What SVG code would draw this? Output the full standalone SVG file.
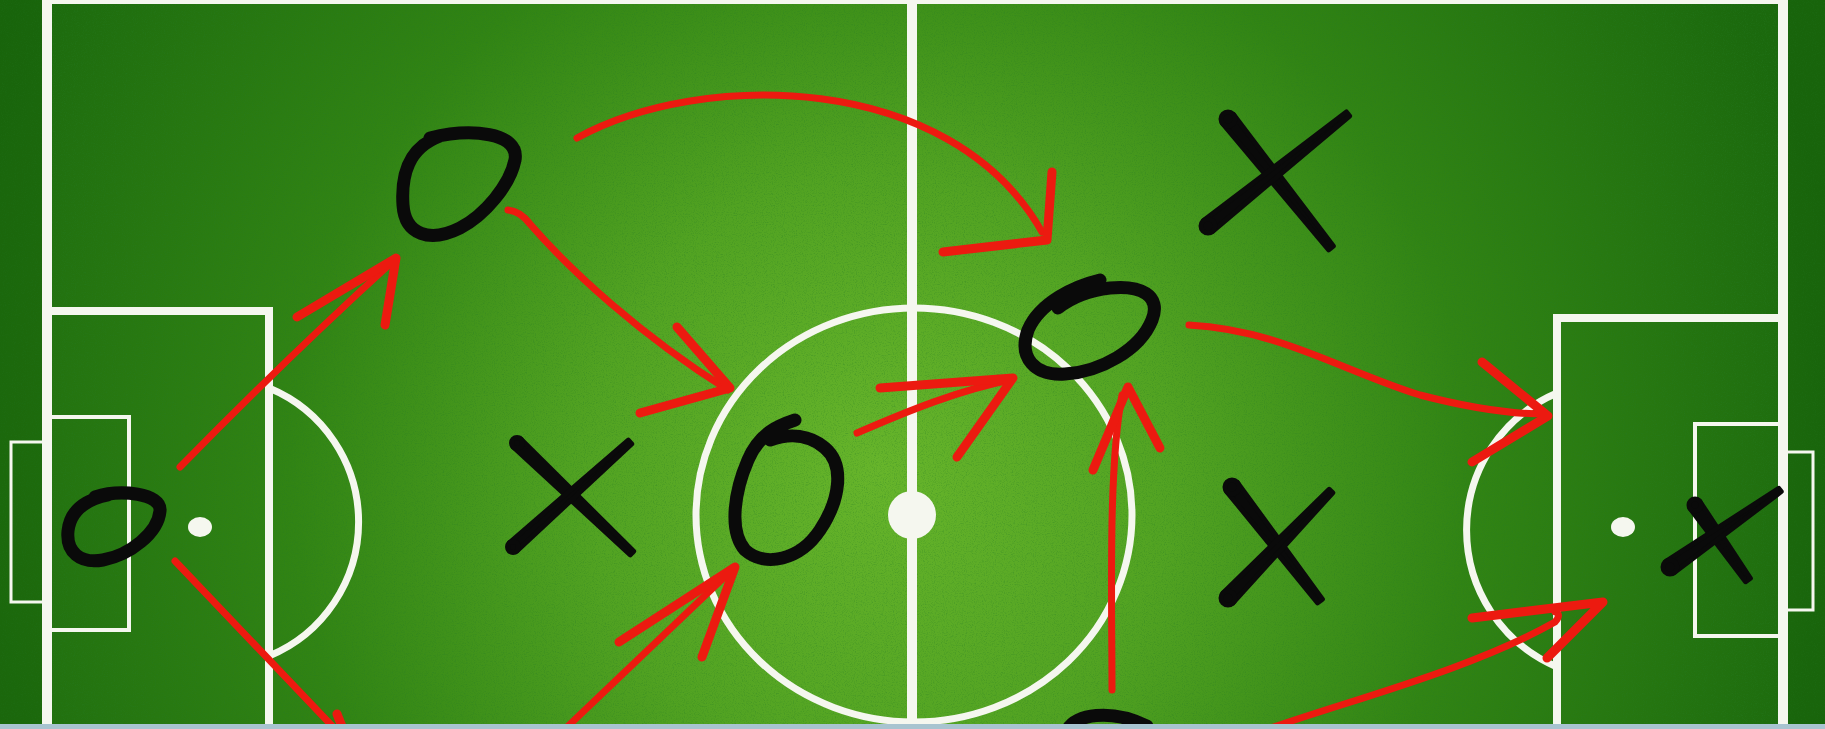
<svg xmlns="http://www.w3.org/2000/svg" width="1825" height="729" viewBox="0 0 1825 729">
<style>
.ln{fill:none;stroke:#f5f7ef;stroke-linecap:butt}
.thick{stroke-width:10}
.mid{stroke-width:8}
.thin{stroke-width:4}
.hair{stroke-width:3}
.spot{fill:#f5f7ef}
.o{fill:none;stroke:#0a0a0a;stroke-width:13;stroke-linecap:round;stroke-linejoin:round}
.x{fill:#0a0a0a;stroke:#0a0a0a;stroke-width:5;stroke-linejoin:round}
.r{fill:none;stroke:#ec1a10;stroke-width:7;stroke-linecap:round;stroke-linejoin:round}
.rh{fill:none;stroke:#ec1a10;stroke-width:9;stroke-linecap:round;stroke-linejoin:round}
</style>
<defs>
<radialGradient id="grass" cx="880" cy="470" r="980" gradientUnits="userSpaceOnUse">
<stop offset="0" stop-color="#67b52b"/>
<stop offset="0.3" stop-color="#52a322"/>
<stop offset="0.6" stop-color="#318414"/>
<stop offset="1" stop-color="#1b690d"/>
</radialGradient>
<filter id="grain" x="0" y="0" width="100%" height="100%">
<feTurbulence type="fractalNoise" baseFrequency="0.9" numOctaves="2" seed="4"/>
<feColorMatrix type="matrix" values="0 0 0 0 0.02 0 0 0 0 0.2 0 0 0 0 0.02 3 0 0 0 -1.45"/>
</filter>
</defs>
<g id="background">
<rect x="0" y="0" width="1825" height="729" fill="url(#grass)"/>
<rect x="0" y="0" width="1825" height="729" filter="url(#grain)" opacity="0.3"/>
<rect x="0" y="0" width="42" height="729" fill="#145d0a" opacity="0.35"/>
<rect x="1788" y="0" width="37" height="729" fill="#145d0a" opacity="0.35"/>
</g>
<g id="pitch">
<rect x="42" y="0" width="1746" height="4" class="spot"/>
<line class="ln thick" x1="47" y1="0" x2="47" y2="729"/>
<line class="ln thick" x1="1783" y1="0" x2="1783" y2="729"/>
<line class="ln thick" x1="912" y1="0" x2="912" y2="729"/>
<ellipse class="ln" stroke-width="7" cx="914" cy="515" rx="218" ry="207"/>
<circle class="spot" cx="912" cy="515" r="24"/>
<path class="ln mid" d="M47,311 H273 M269,307 V729"/>
<path class="ln thin" d="M47,417 H129 V630 H47"/>
<path class="ln hair" d="M47,442 H11 V602 H47"/>
<ellipse class="spot" cx="200" cy="527" rx="12" ry="10"/>
<path class="ln" stroke-width="7" d="M269,388 A145,145 0 0 1 269,656"/>
<path class="ln mid" d="M1783,318 H1553 M1557,314 V729"/>
<path class="ln thin" d="M1783,424 H1695 V636 H1783"/>
<path class="ln hair" d="M1783,452 H1813 V610 H1783"/>
<ellipse class="spot" cx="1623" cy="527" rx="12" ry="10"/>
<path class="ln" stroke-width="7" d="M1557,393 A149,149 0 0 0 1557,667"/>
</g>
<g id="connectors">
<path class="r" d="M180,467 Q290,355 390,264"/>
<path class="rh" d="M297,317 L396,258 L385,325"/>
<path class="r" d="M175,561 L335,729"/>
<path class="rh" d="M337,714 L343,729"/>
<path class="r" d="M508,210 Q520,211 530,224 C570,270 640,335 728,390"/>
<path class="rh" d="M677,327 L730,388 L640,413"/>
<path class="r" d="M857,433 C910,410 960,390 1010,380"/>
<path class="rh" d="M880,388 L1013,378 L957,457"/>
<path class="r" stroke-width="6" d="M577,138 C700,70 950,70 1042,232"/>
<path class="rh" d="M1052,172 L1047,240 L943,252"/>
<path class="r" stroke-width="6" d="M1189,325 C1280,330 1340,370 1420,395 C1470,408 1510,414 1545,414"/>
<path class="rh" d="M1482,362 L1548,416 L1472,462"/>
<path class="r" d="M1268,729 C1350,700 1470,670 1555,622 Q1562,614 1555,612"/>
<path class="rh" d="M1472,618 L1603,602 L1547,658"/>
<path class="r" d="M1112,690 C1112,600 1108,470 1122,395"/>
<path class="rh" d="M1093,470 L1128,387 L1160,448"/>
<path class="r" d="M565,729 L735,567"/>
<path class="rh" d="M619,642 L735,567 L702,657"/>
</g>
<g id="o-keeper"><path class="o" d="M95,497 C120,489 162,493 160,511 C158,533 130,555 103,560 C80,564 66,552 68,531 C70,512 84,500 108,495"/></g>
<g id="o-top"><path class="o" d="M430,138 C470,128 520,132 515,160 C510,185 485,215 460,228 C430,243 405,235 403,205 C401,175 408,148 440,136"/></g>
<g id="o-centre"><path class="o" d="M795,420 C780,425 760,432 748,460 C735,490 728,530 745,550 C765,568 800,560 820,530 C840,500 845,465 825,448 C810,435 790,433 770,440"/></g>
<g id="o-right"><path class="o" d="M1100,280 C1075,286 1040,302 1028,330 C1018,358 1035,376 1065,374 C1100,372 1140,350 1152,320 C1162,295 1140,285 1110,288 C1085,291 1068,300 1058,308"/></g>
<g id="o-bottom"><path class="o" d="M1068,729 C1075,715 1110,708 1147,726"/></g>
<g id="x-left">
<polygon class="x" points="513.2,447 630.3,554.8 633.7,551.2 520.8,439"/>
<circle class="x" cx="517" cy="443" r="5.5"/>
<polygon class="x" points="628.3,440.1 509.3,542.9 516.7,551.1 631.7,443.9"/>
<circle class="x" cx="513" cy="547" r="5.5"/>
</g>
<g id="x-top">
<polygon class="x" points="1222.5,123.4 1328.7,249.9 1333.3,246.1 1233.5,114.6"/>
<circle class="x" cx="1228" cy="119" r="7"/>
<polygon class="x" points="1346.4,112 1203.6,220.5 1212.4,231.5 1349.6,116"/>
<circle class="x" cx="1208" cy="226" r="7"/>
</g>
<g id="x-mid">
<polygon class="x" points="1226.5,491.3 1317.6,602.8 1322.4,599.2 1237.5,482.7"/>
<circle class="x" cx="1232" cy="487" r="7"/>
<polygon class="x" points="1329.2,489.3 1223,593.1 1233,602.9 1332.8,492.7"/>
<circle class="x" cx="1228" cy="598" r="7"/>
</g>
<g id="x-keeper">
<polygon class="x" points="1690.1,508.5 1745.6,581.7 1750.4,578.3 1699.9,501.5"/>
<circle class="x" cx="1695" cy="505" r="6"/>
<polygon class="x" points="1778.8,488.4 1666,561.3 1674,572.7 1781.2,491.6"/>
<circle class="x" cx="1670" cy="567" r="7"/>
</g>
<rect id="bottom-band" x="0" y="724" width="1825" height="5" fill="#a8c4d0"/>
</svg>
